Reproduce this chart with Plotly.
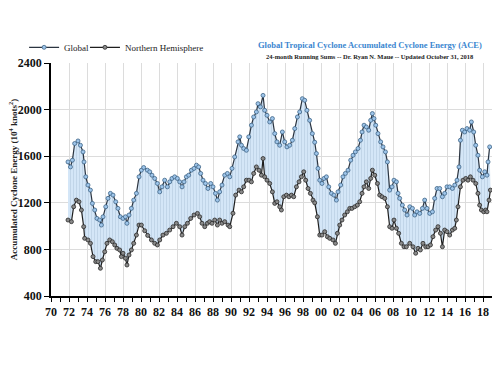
import plotly.graph_objects as go

# Global ACE (24-month running sums)
global_years = [1971.89, 1972.16, 1972.38, 1972.63, 1973.0, 1973.27, 1973.56, 1973.67, 1973.86, 1974.11,
    1974.38, 1974.6, 1974.86, 1975.11, 1975.41, 1975.6, 1975.78, 1976.08, 1976.33, 1976.6,
    1976.89, 1977.19, 1977.44, 1977.71, 1978.0, 1978.27, 1978.44, 1978.67, 1978.93, 1979.19,
    1979.49, 1979.78, 1980.04, 1980.3, 1980.71, 1980.97, 1981.22, 1981.52, 1981.82, 1982.08,
    1982.33, 1982.63, 1982.93, 1983.19, 1983.44, 1983.74, 1984.04, 1984.3, 1984.56, 1984.78,
    1985.04, 1985.3, 1985.6, 1985.89, 1986.16, 1986.41, 1986.63, 1986.89, 1987.16, 1987.44,
    1987.74, 1988.0, 1988.27, 1988.49, 1988.74, 1989.0, 1989.3, 1989.6, 1989.86, 1990.11,
    1990.41, 1990.78, 1990.97, 1991.16, 1991.41, 1991.71, 1991.97, 1992.27, 1992.52, 1992.82,
    1993.0, 1993.27, 1993.56, 1993.74, 1994.0, 1994.3, 1994.6, 1994.86, 1995.11, 1995.41,
    1995.71, 1995.97, 1996.22, 1996.52, 1996.82, 1997.08, 1997.38, 1997.63, 1997.93, 1998.19,
    1998.44, 1998.74, 1999.04, 1999.3, 1999.49, 1999.67, 1999.86, 2000.11, 2000.33, 2000.6,
    2000.86, 2001.16, 2001.44, 2001.71, 2001.89, 2002.19, 2002.44, 2002.71, 2003.0, 2003.3,
    2003.56, 2003.82, 2004.11, 2004.38, 2004.56, 2004.78, 2005.04, 2005.3, 2005.52, 2005.71,
    2005.89, 2006.08, 2006.33, 2006.63, 2006.89, 2007.16, 2007.38, 2007.63, 2007.89, 2008.11,
    2008.38, 2008.56, 2008.74, 2009.04, 2009.3, 2009.56, 2009.86, 2010.16, 2010.41, 2010.67,
    2010.97, 2011.27, 2011.52, 2011.78, 2012.08, 2012.38, 2012.63, 2012.89, 2013.19, 2013.49,
    2013.74, 2014.0, 2014.3, 2014.6, 2014.86, 2015.11, 2015.33, 2015.49, 2015.71, 2015.97,
    2016.22, 2016.52, 2016.71, 2016.97, 2017.19, 2017.44, 2017.63, 2017.93, 2018.19, 2018.44,
    2018.56, 2018.74]
global_ace = [1551, 1508, 1566, 1709, 1731, 1694, 1637, 1551, 1423, 1352,
    1309, 1195, 1138, 1066, 1052, 1009, 1080, 1166, 1238, 1281,
    1266, 1209, 1152, 1080, 1066, 1080, 1024, 1095, 1152, 1223,
    1281, 1423, 1480, 1503, 1480, 1466, 1437, 1409, 1366, 1294,
    1337, 1394, 1337, 1380, 1409, 1423, 1409, 1380, 1337, 1380,
    1423, 1437, 1480, 1495, 1523, 1508, 1452, 1394, 1366, 1323,
    1366, 1337, 1281, 1223, 1294, 1352, 1437, 1452, 1423, 1495,
    1594, 1723, 1766, 1694, 1666, 1651, 1766, 1866, 1937, 1980,
    2051, 2023, 2122, 1994, 1951, 1894, 1923, 1794, 1723, 1694,
    1808, 1723, 1680, 1694, 1737, 1837, 1937, 1980, 2094, 2080,
    1994, 1908, 1794, 1720, 1623, 1495, 1394, 1366, 1409, 1423,
    1337, 1281, 1266, 1223, 1294, 1352, 1423, 1452, 1480, 1566,
    1608, 1637, 1666, 1737, 1808, 1866, 1851, 1823, 1908, 1966,
    1923, 1866, 1794, 1723, 1680, 1637, 1551, 1309, 1337, 1394,
    1380, 1281, 1238, 1180, 1138, 1095, 1166, 1152, 1095, 1123,
    1109, 1152, 1223, 1152, 1109, 1123, 1238, 1323, 1323, 1252,
    1281, 1337, 1337, 1323, 1352, 1394, 1508, 1737, 1823, 1808,
    1837, 1823, 1894, 1808, 1694, 1608, 1480, 1423, 1466, 1437,
    1551, 1680]

# Northern Hemisphere ACE
nh_years = [1971.89, 1972.27, 1972.52, 1972.82, 1973.11, 1973.38, 1973.63, 1973.74, 1974.11, 1974.38,
    1974.67, 1974.97, 1975.22, 1975.49, 1975.71, 1975.97, 1976.22, 1976.52, 1976.82, 1977.08,
    1977.33, 1977.63, 1977.82, 1978.0, 1978.27, 1978.44, 1978.67, 1978.93, 1979.19, 1979.49,
    1979.78, 1980.04, 1980.41, 1980.74, 1981.16, 1981.52, 1981.82, 1982.08, 1982.44, 1982.82,
    1983.19, 1983.56, 1983.93, 1984.3, 1984.56, 1984.86, 1985.16, 1985.52, 1985.89, 1986.27,
    1986.52, 1986.78, 1987.08, 1987.38, 1987.63, 1987.89, 1988.19, 1988.49, 1988.74, 1989.0,
    1989.3, 1989.67, 1989.86, 1990.22, 1990.52, 1990.89, 1991.16, 1991.41, 1991.71, 1992.0,
    1992.27, 1992.52, 1992.82, 1993.11, 1993.38, 1993.56, 1993.74, 1994.0, 1994.3, 1994.6,
    1994.86, 1995.11, 1995.41, 1995.6, 1995.86, 1996.16, 1996.44, 1996.71, 1996.97, 1997.27,
    1997.56, 1997.82, 1998.08, 1998.3, 1998.56, 1998.82, 1999.11, 1999.3, 1999.6, 1999.86,
    2000.11, 2000.41, 2000.71, 2000.97, 2001.33, 2001.6, 2001.82, 2002.08, 2002.33, 2002.63,
    2002.93, 2003.19, 2003.44, 2003.74, 2004.04, 2004.3, 2004.56, 2004.78, 2005.04, 2005.3,
    2005.52, 2005.71, 2005.97, 2006.27, 2006.52, 2006.78, 2007.08, 2007.38, 2007.63, 2007.89,
    2008.11, 2008.38, 2008.63, 2008.93, 2009.22, 2009.49, 2009.86, 2010.22, 2010.52, 2010.78,
    2011.04, 2011.33, 2011.63, 2011.89, 2012.16, 2012.44, 2012.74, 2013.0, 2013.27, 2013.49,
    2013.74, 2014.0, 2014.3, 2014.6, 2014.86, 2015.04, 2015.22, 2015.49, 2015.78, 2016.08,
    2016.33, 2016.6, 2016.89, 2017.19, 2017.44, 2017.63, 2017.82, 2018.08, 2018.3, 2018.44,
    2018.67, 2018.82]
nh_ace = [1052, 1038, 1166, 1223, 1209, 1138, 995, 895, 881, 852,
    738, 695, 695, 638, 709, 780, 852, 881, 866, 838,
    809, 795, 738, 767, 724, 666, 752, 795, 852, 923,
    1009, 1009, 960, 920, 881, 852, 838, 881, 923, 938,
    966, 995, 1024, 995, 923, 995, 1024, 1066, 1095, 1109,
    1080, 1024, 995, 1024, 1038, 1024, 1052, 1009, 1052, 1024,
    1038, 1009, 995, 1110, 1266, 1309, 1294, 1337, 1394, 1394,
    1380, 1452, 1508, 1480, 1437, 1580, 1423, 1394, 1366, 1294,
    1195, 1209, 1166, 1138, 1252, 1266, 1252, 1266, 1252, 1337,
    1380, 1423, 1466, 1394, 1323, 1281, 1223, 1200, 1080, 923,
    923, 952, 909, 895, 881, 852, 938, 1009, 1052, 1095,
    1123, 1152, 1152, 1166, 1180, 1209, 1281, 1337, 1380, 1323,
    1409, 1480, 1437, 1366, 1266, 1252, 1238, 1166, 995, 981,
    1052, 981, 938, 852, 823, 823, 852, 823, 767, 809,
    795, 852, 823, 823, 838, 909, 966, 995, 938, 823,
    966, 952, 923, 966, 981, 1052, 1166, 1337, 1394, 1409,
    1394, 1423, 1394, 1366, 1281, 1180, 1138, 1123, 1138, 1123,
    1223, 1309]

tick_years = list(range(1970, 2019, 2))
tick_labels = [f"{y % 100:02d}" for y in tick_years]
y_ticks = [400, 800, 1200, 1600, 2000, 2400]

SERIF = "Liberation Serif, Times New Roman, serif"

fig = go.Figure()
# fill band between the two series
fig.add_trace(go.Scatter(x=nh_years, y=nh_ace, mode="lines", line=dict(width=0, color="rgba(0,0,0,0)"),
                         showlegend=False, hoverinfo="skip"))
fig.add_trace(go.Scatter(x=global_years, y=global_ace, mode="lines", line=dict(width=0, color="rgba(0,0,0,0)"),
                         fill="tonexty", fillcolor="#d3e5f6",
                         fillpattern=dict(shape="|", fgcolor="#9ab2ca", bgcolor="#d4e6f7", size=3, solidity=0.22),
                         showlegend=False, hoverinfo="skip"))
fig.add_trace(go.Scatter(x=global_years, y=global_ace, name="Global", mode="lines+markers",
                         line=dict(color="#2b3440", width=1.2), legend="legend",
                         marker=dict(size=4, color="#9ec5ea", line=dict(color="#3f6486", width=0.8))))
fig.add_trace(go.Scatter(x=nh_years, y=nh_ace, name="Northern Hemisphere", mode="lines+markers",
                         line=dict(color="#1e1e1e", width=1.2), legend="legend2",
                         marker=dict(size=4, color="#8a8a8a", line=dict(color="#2a2a2a", width=0.8))))

legend_common = dict(orientation="h", traceorder="normal", y=1.005, xanchor="left", yanchor="bottom",
                     font=dict(family=SERIF, size=9, color="#222"), itemwidth=30,
                     bgcolor="rgba(0,0,0,0)")

fig.update_layout(
    width=492, height=367,
    margin=dict(l=43, r=8, t=55, b=79, autoexpand=False),
    paper_bgcolor="white", plot_bgcolor="white",
    font=dict(family=SERIF, color="#111"),
    showlegend=True,
    legend=dict(x=-0.061, **legend_common),
    legend2=dict(x=0.077, **legend_common),
    xaxis=dict(range=[1970, 2019], tickmode="array", tickvals=tick_years, ticktext=tick_labels,
               showgrid=True, gridcolor="#dcdcdc", gridwidth=1,
               showline=True, linecolor="black", linewidth=1.5,
               ticks="outside", ticklen=4, tickcolor="black",
               minor=dict(dtick=1, tick0=1970, ticks="outside", ticklen=4, tickcolor="black", showgrid=False),
               tickfont=dict(family=SERIF, size=12, color="#111", weight="bold"),
               zeroline=False, automargin=False),
    yaxis=dict(range=[400, 2400], tickmode="array", tickvals=y_ticks,
               showgrid=True, gridcolor="#dcdcdc", gridwidth=1,
               showline=True, linecolor="black", linewidth=1.5,
               ticks="outside", ticklen=5, tickcolor="black",
               tickfont=dict(family=SERIF, size=12, color="#111", weight="bold"),
               zeroline=False, automargin=False),
    annotations=[
        dict(text="Global Tropical Cyclone Accumulated Cyclone Energy (ACE)", xref="paper", yref="paper",
             x=0.723, y=1.077, xanchor="center", yanchor="middle", showarrow=False,
             font=dict(family=SERIF, size=8.5, color="#3a86d0", weight="bold")),
        dict(text="24-month Running Sums -- Dr. Ryan N. Maue -- Updated October 31, 2018", xref="paper", yref="paper",
             x=0.723, y=1.026, xanchor="center", yanchor="middle", showarrow=False,
             font=dict(family=SERIF, size=6.5, color="#222", weight="bold")),
        dict(text="Accumulated Cyclone Energy (10<sup>4</sup> knots<sup>2</sup>)", xref="paper", yref="paper",
             x=-0.087, y=0.5, xanchor="center", yanchor="middle", textangle=-90, showarrow=False,
             font=dict(family=SERIF, size=9, color="#222", weight="bold")),
    ],
)

fig.write_html("out.html")
